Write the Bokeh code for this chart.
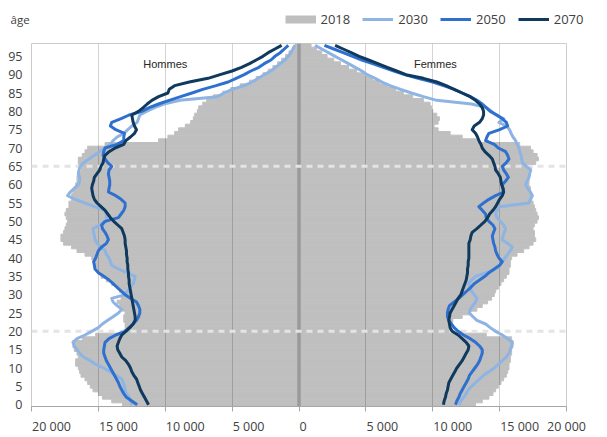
from bokeh.plotting import figure
from bokeh.layouts import column
from bokeh.models import (Range1d, FixedTicker, Span, Label, Legend, LegendItem,
                          ColumnDataSource, LinearAxis)
from bokeh.embed import file_html
from bokeh.resources import INLINE

# ---------------- data ----------------
ages = list(range(99))

men_2018 = [
    13200, 14000, 14700, 15000, 15400, 15600, 15800, 16000, 16300, 16400,
    16500, 16700, 16700, 16500, 16600, 16800, 16900, 16900, 16200, 15200,
    13100, 13000, 13000, 13100, 13100, 13000, 13200, 13400, 13600, 13300,
    13200, 13400, 13600, 14000, 14400, 14800, 15000, 15100, 15300, 15400,
    15500, 16000, 16600, 17000, 17600, 17800, 17800, 17600, 17500, 17400,
    17300, 17400, 17500, 17400, 17200, 17200, 17000, 17000, 16900, 16800,
    16700, 16600, 16600, 16500, 16300, 16400, 16500, 16500, 16200, 16000,
    15800, 14500, 10500, 9800, 9300, 9000, 8500, 8100, 7900, 7800,
    7600, 7500, 7200, 6900, 6400, 5700, 5100, 4400, 3700, 3200,
    2700, 2300, 1950, 1600, 1300, 1000, 750, 500, 300]

women_2018 = [
    13200, 13700, 14200, 14500, 14700, 14900, 15100, 15300, 15500, 15600,
    15700, 15700, 15800, 15800, 15900, 15900, 16000, 16000, 15900, 14000,
    11400, 11200, 11300, 11500, 12200, 12800, 13300, 13700, 14100, 14400,
    14600, 14700, 14900, 15100, 15300, 15500, 15700, 15700, 15800, 15800,
    15900, 16300, 16800, 17200, 17500, 17700, 17600, 17600, 17500, 17600,
    17800, 17900, 17800, 17700, 17600, 17500, 17400, 17300, 17300, 17300,
    17200, 17200, 17200, 17300, 17300, 17400, 17700, 17900, 17800, 17500,
    17300, 16500, 13300, 12200, 11300, 10400, 10100, 10400, 10500, 10300,
    10000, 9900, 9800, 9300, 8500, 7800, 7200, 6600, 6000, 5500,
    4900, 4300, 3700, 3100, 2600, 2100, 1700, 1300, 900]

men_2030 = [
    12500, 12600, 12700, 12900, 13000, 13050, 13150, 13250, 13700, 14100,
    14600, 15200, 15600, 16100, 16400, 16600, 16800, 16900, 16600, 16000,
    15500, 15000, 14700, 14300, 13900, 13500, 13250, 13600, 13900, 14000,
    13000, 12800, 12600, 12400, 12300, 12250, 12900, 13500, 14000, 14100,
    14200, 14400, 14500, 14800, 15100, 15250, 15300, 15350, 15400, 14900,
    14400, 14400, 14400, 14500, 15300, 16000, 16750, 17300, 17100, 16800,
    16500, 16400, 16400, 16500, 16450, 16350, 16100, 15700, 15300, 14900,
    14500, 14100, 13900, 13600, 13100, 12800, 12500, 12100, 12000, 11900,
    11400, 10800, 10100, 8900, 6100, 5600, 5000, 4100, 3500, 3050,
    2600, 2100, 1750, 1400, 1050, 800, 600, 450, 300]

men_2050 = [
    12100, 12500, 12900, 13100, 13250, 13400, 13500, 13650, 13800, 13950,
    14100, 14250, 14400, 14500, 14600, 14600, 14550, 14500, 14200, 13700,
    13000, 12700, 12400, 12150, 12000, 11900, 11900, 12000, 12150, 12600,
    13000, 13300, 13600, 13900, 14200, 14600, 15000, 15250, 15300, 15350,
    15200, 15100, 15000, 14750, 14400, 14250, 14350, 14500, 14700, 14750,
    14500, 13500, 13300, 13100, 13000, 13000, 13300, 13700, 14250, 14200,
    14150, 14150, 14200, 14250, 14200, 14000, 14300, 14500, 14650, 14600,
    14500, 13600, 13100, 13100, 13050, 13700, 14100, 14000, 13300, 12700,
    11750, 11200, 10500, 9700, 8850, 8000, 7200, 6200, 5300, 4700,
    4100, 3600, 3000, 2600, 2100, 1800, 1400, 1100, 800]

men_2070 = [
    11250, 11400, 11550, 11700, 11850, 11950, 12050, 12150, 12350, 12500,
    12600, 12750, 12950, 13250, 13400, 13550, 13600, 13500, 13400, 13250,
    12950, 12650, 12400, 12250, 12250, 12300, 12350, 12400, 12450, 12500,
    12550, 12600, 12650, 12700, 12700, 12750, 12750, 12800, 12800, 12850,
    12850, 12900, 12900, 12950, 13000, 13000, 13050, 13150, 13250, 13550,
    13850, 14100, 14300, 14500, 14800, 15100, 15300, 15400, 15450, 15500,
    15450, 15350, 15300, 15100, 14900, 14800, 14650, 14600, 14500, 14200,
    13750, 13100, 12950, 12600, 12300, 12150, 12300, 12400, 12450, 12500,
    12000, 11650, 11350, 11000, 10500, 9800, 9700, 9300, 8200, 6800,
    5900, 5000, 4300, 3700, 3200, 2700, 2300, 1800, 1300]

women_2030 = [
    11950, 12100, 12300, 12500, 12650, 12900, 13200, 13500, 13800, 14200,
    14600, 14900, 15200, 15500, 15700, 15800, 15900, 15950, 15600, 15200,
    14700, 14300, 13950, 13300, 13000, 12750, 12800, 13000, 13200, 13300,
    13100, 12900, 12750, 12700, 12900, 13200, 14000, 14700, 15000, 15200,
    15400, 15600, 15800, 15950, 15600, 15200, 15250, 15350, 15450, 15300,
    15050, 14800, 14700, 14800, 15000, 17200, 17300, 17450, 17300, 17100,
    16950, 17050, 17200, 17250, 17325, 17000, 16700, 16650, 16600, 16500,
    16450, 16300, 16200, 16000, 15850, 15750, 15500, 14950, 15300, 14700,
    14400, 14000, 12900, 10300, 9300, 8400, 7600, 6800, 6200, 5700,
    5100, 4700, 4200, 3700, 3200, 2700, 2200, 1700, 1200]

women_2050 = [
    11700, 11800, 11950, 12050, 12200, 12350, 12500, 12650, 12750, 12950,
    13150, 13350, 13500, 13600, 13700, 13700, 13500, 13200, 12800, 12300,
    11900, 11600, 11400, 11200, 11100, 11100, 11150, 11250, 11600, 11950,
    12250, 12550, 12850, 13100, 13500, 13900, 14200, 14600, 15000, 15200,
    14950, 14800, 14700, 14650, 14550, 14500, 14450, 14550, 14650, 14500,
    14200, 14000, 13950, 13700, 13450, 13800, 14200, 14700, 15300, 15250,
    15200, 15450, 15650, 15500, 15300, 15200, 15500, 15700, 15600, 15450,
    14900, 14600, 13950, 14050, 14200, 15000, 15600, 15500, 15200, 14800,
    14300, 14000, 13700, 13300, 12800, 12200, 11600, 10800, 10000, 8900,
    7900, 7100, 6300, 5500, 4700, 4000, 3300, 2600, 1900]

women_2070 = [
    10800, 10850, 10950, 11000, 11100, 11150, 11200, 11350, 11500, 11650,
    11800, 12000, 12200, 12350, 12500, 12650, 12700, 12500, 12200, 11900,
    11450, 11300, 11250, 11200, 11250, 11300, 11450, 11600, 11750, 11900,
    12100, 12200, 12300, 12400, 12500, 12550, 12600, 12600, 12650, 12650,
    12700, 12700, 12700, 12700, 12700, 12800, 12850, 12950, 13300, 13600,
    13900, 14100, 14250, 14500, 14700, 14850, 15000, 15200, 15300, 15250,
    15150, 15100, 15050, 14900, 14700, 14650, 14550, 14450, 14200, 13900,
    13700, 13600, 13450, 13350, 13200, 12950, 13100, 13500, 13700, 13800,
    13800, 13700, 13500, 13200, 12800, 12200, 11600, 11000, 10300, 9300,
    8000, 7300, 6600, 5900, 5200, 4500, 3900, 3300, 2700]

series_names = ["2018", "2030", "2050", "2070"]
xtick_vals = [-20000, -15000, -10000, -5000, 0, 5000, 10000, 15000, 20000]
xtick_labels = ["20 000", "15 000", "10 000", "5 000", "0", "5 000", "10 000", "15 000", "20 000"]
ytick_vals = list(range(0, 100, 5))
ref_ages = [20, 65]
side_labels = ["Hommes", "Femmes"]
age_title = "âge"

# ---------------- styles / layout ----------------
BAR = "#bfbfbf"
C2030 = "#8eb4e3"
C2050 = "#2f70cf"
C2070 = "#10395e"
TXT = "#404040"
FONT = "Open Sans"
TICK_FS = 12.5
COLORS = [BAR, C2030, C2050, C2070]
WIDTHS = [8, 3, 3, 3]

W = 607
HEAD_H, MAIN_H = 42, 395
ML, MR, MT, MB = 31, 41, 1, 25
FW = W - ML - MR
X0, X1 = -20000, 20000
LEG_H = 22

# ---------------- header: caption + legend ----------------
head = figure(width=W, height=HEAD_H, x_range=Range1d(0, 1), y_range=Range1d(0, 1),
              x_axis_type=None, y_axis_type=None, output_backend="svg", toolbar_location=None,
              min_border_left=0, min_border_right=0, min_border_top=0, min_border_bottom=0)
head.outline_line_color = None
head.background_fill_color = "white"
head.border_fill_color = "white"
head.grid.visible = False

# ---------------- main chart ----------------
p = figure(width=W, height=MAIN_H, x_range=Range1d(X0, X1), y_range=Range1d(-0.5, 98.5),
           output_backend="svg", toolbar_location=None,
           min_border_left=ML, min_border_right=MR, min_border_top=MT, min_border_bottom=MB)

can_unalign = "frame_align" in p.properties()
if can_unalign:
    head.frame_align = False
    p.frame_align = False
    head_left = 0
    leg_left = 284.5
    age_left = 9.5
else:
    head_left = ML
    leg_left = W - MR - 302
    age_left = ML

items = []
for name, col, lw in zip(series_names, COLORS, WIDTHS):
    r = head.line(x=[0, 1], y=[-10, -10], line_color=col, line_width=lw)
    items.append(LegendItem(label=name, renderers=[r]))
legend = Legend(items=items, orientation="horizontal",
                location=(leg_left - head_left, HEAD_H - 8 - LEG_H),
                glyph_width=31, glyph_height=LEG_H, label_height=LEG_H, label_standoff=5, spacing=12,
                padding=0, margin=0, border_line_color=None, background_fill_alpha=0,
                label_text_font=FONT, label_text_font_size="13px", label_text_color=TXT)
head.add_layout(legend, "center")

ghost = head.line(x=[0, 1], y=[-10, -10], line_alpha=0)
age_leg = Legend(items=[LegendItem(label=age_title, renderers=[ghost])], orientation="horizontal",
                 location=(age_left - head_left, HEAD_H - 8 - LEG_H),
                 glyph_width=1, glyph_height=LEG_H, label_height=LEG_H, label_standoff=0,
                 padding=0, margin=0, border_line_color=None, background_fill_alpha=0,
                 label_text_font=FONT, label_text_font_size="11.5px", label_text_color=TXT)
head.add_layout(age_leg, "center")

p.background_fill_color = "white"
p.border_fill_color = "white"
p.outline_line_color = "#cccccc"
p.outline_line_width = 1

src_bars = ColumnDataSource(dict(age=ages,
                                 men_left=[-v for v in men_2018], men_right=[0] * len(ages),
                                 wom_left=[0] * len(ages), wom_right=women_2018))
for l, r in (("men_left", "men_right"), ("wom_left", "wom_right")):
    p.hbar(y="age", left=l, right=r, height=1, source=src_bars,
           fill_color=BAR, line_color=BAR, line_width=1, level="image")

# x axis: tick marks only
ticker = FixedTicker(ticks=xtick_vals)
ax = p.xaxis[0]
ax.ticker = ticker
ax.major_label_overrides = {v: " " for v in xtick_vals}
ax.major_label_text_font_size = "1px"
ax.major_label_standoff = 0
ax.axis_line_color = "#a6a6a6"
ax.major_tick_line_color = "#a6a6a6"
ax.major_tick_out = 5
ax.major_tick_in = 0
ax.minor_tick_out = 0
ax.minor_tick_in = 0
ax.minor_tick_line_color = None

# label-only axis: each label starts at its tick
px_per_unit = FW / float(X1 - X0)
def half_width(t):
    return sum(0.26 if ch == " " else 0.572 for ch in t) * TICK_FS / 2.0
centers = [int(round(min(v + (half_width(t) + 0.5) / px_per_unit, X1 - 1)))
           for v, t in zip(xtick_vals, xtick_labels)]
lab_axis = LinearAxis(ticker=FixedTicker(ticks=centers),
                      major_label_overrides=dict(zip(centers, xtick_labels)),
                      axis_line_color=None, major_tick_line_color=None, minor_tick_line_color=None,
                      major_tick_out=0, major_tick_in=0, minor_tick_out=0, minor_tick_in=0,
                      major_label_standoff=2, major_label_text_font=FONT,
                      major_label_text_font_size=f"{TICK_FS}px", major_label_text_color=TXT)
p.add_layout(lab_axis, "below")

ya = p.yaxis[0]
ya.ticker = FixedTicker(ticks=ytick_vals)
ya.axis_line_color = None
ya.major_tick_line_color = None
ya.minor_tick_line_color = None
ya.major_tick_out = 0
ya.major_tick_in = 0
ya.minor_tick_out = 0
ya.minor_tick_in = 0
ya.major_label_standoff = 9
ya.major_label_text_font = FONT
ya.major_label_text_font_size = f"{TICK_FS}px"
ya.major_label_text_color = TXT

p.xgrid.ticker = ticker
p.xgrid.grid_line_color = "#000000"
p.xgrid.grid_line_alpha = 0.17
p.ygrid.grid_line_color = None

p.add_layout(Span(location=0, dimension="height", line_color="#9a9a9a", line_width=3.5, level="underlay"))
for a in ref_ages:
    p.add_layout(Span(location=a, dimension="width", line_color="#e4e4e4", line_width=3,
                      line_dash="6 5", level="underlay"))

for men, wom, col in [(men_2030, women_2030, C2030),
                      (men_2050, women_2050, C2050),
                      (men_2070, women_2070, C2070)]:
    p.line(x=[-v for v in men], y=ages, line_color=col, line_width=3, line_join="round")
    p.line(x=wom, y=ages, line_color=col, line_width=3, line_join="round")

p.add_layout(Label(x=-10000, y=93, text=side_labels[0], text_align="center", text_baseline="middle",
                   text_font="Liberation Sans", text_font_size="11px", text_color="#262626"))
p.add_layout(Label(x=10200, y=93, text=side_labels[1], text_align="center", text_baseline="middle",
                   text_font="Liberation Sans", text_font_size="11px", text_color="#262626"))

layout = column(head, p, spacing=0)
open("out.html", "w").write(file_html(layout, INLINE))
